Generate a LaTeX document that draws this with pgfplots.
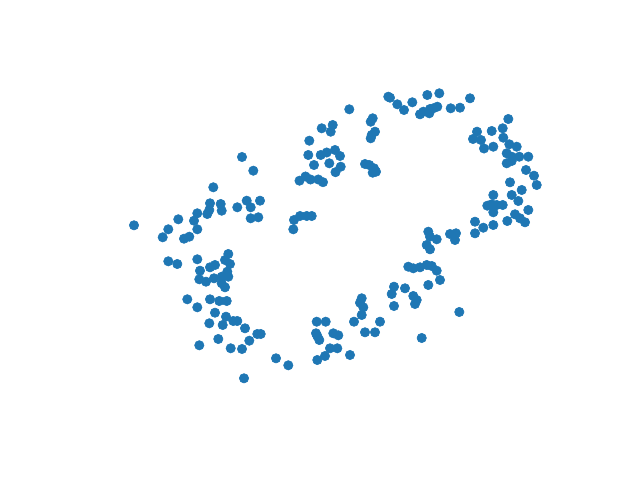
\documentclass[border=0pt]{standalone}
\usepackage{pgfplots}
\pgfplotsset{compat=1.18}
\definecolor{mplblue}{HTML}{1F77B4}
\begin{document}
\begin{tikzpicture}
\begin{axis}[
    width=6.4in, height=4.8in, scale only axis,
    xmin=0, xmax=640, ymin=0, ymax=480,
    y dir=reverse,
    hide axis, clip=false,
]
\path (rel axis cs:0,0) rectangle (rel axis cs:1,1);
\addplot[only marks, mark=*, mark size=3.4pt, color=mplblue] coordinates {
(134,225.3) (162.7,237.3) (168.3,229.3) (178.3,219.3) (184,238.7) (189.3,236.7)
(197.3,229.3) (194,220.7) (197.3,213.3) (207.3,214) (209.3,210) (210,203.3)
(213.3,187.3) (220.7,204) (221.7,210.7) (237.3,207.3) (242,157)
(168.3,261.3) (177.3,264) (197.3,259.3) (228.3,254) (225,260) (200,270.7)
(210,267.3) (215,265) (230,264) (227.3,271.7) (199.3,279.3) (206,281.7)
(214,278.3) (221.7,276.7) (228.3,276.7) (221.7,283.3) (225,287.3)
(187.3,299.3) (197.3,307.3) (210,299.3) (219.3,301) (226.7,301)
(215,312.7) (226,316.7) (233.3,321) (237.3,321) (209.3,323.3) (222.7,325)
(218.3,339) (199.3,345.3) (230.7,348.3) (242,349) (245,328.3) (249.3,340.7)
(257.3,334) (260.7,334) (244,378.3) (276,358.3) (288.3,365.3)
(316.7,321.7) (325.7,321.7) (316,333.3) (317.3,336) (319.3,340)
(333.3,333.3) (338.3,335.3) (330,348.3) (337.3,348.3) (325,356) (317.3,360)
(350,355) (354,321.7) (361.7,298.3) (360,302.7) (363.3,307.3) (361.7,315)
(365,332.3) (375,332.3) (380,321.7)
(309.3,140.7) (253.3,170.7) (308.3,155) (320.7,155) (326.7,152.5) (335,150)
(340,156) (314,165) (329.3,163.3) (340.7,166.7) (335.5,172.2)
(299.5,180.7) (305.5,176.5) (310.5,179.5) (318.3,179.5) (323,182.2)
(246.7,200.7) (250.7,207.3) (260,200.7) (250.7,218.3) (258.3,217.3)
(294,220) (300,216) (306.7,216) (311.7,216) (293.3,229.3)
(349.3,109.3) (370.7,121.7) (372.7,118.3) (371.7,135) (375,131.7) (370.7,138.3)
(388.3,96.7) (321.7,128.3) (332.7,125) (330.7,131.7)
(365,164) (369.3,165) (374,168.3) (376,171.7) (372.7,172.7)
(390,97.7) (397.3,104.3) (404,110) (412.3,102.3) (427.3,95) (439.3,93.3)
(420,114.3) (423.3,111.7) (429.3,113.3) (433.3,108.3) (437.3,106.7) (430,109)
(450.7,108.3) (460,107.7) (470,98.3)
(477,131.7) (473,139) (481,140) (484,148.5)
(508.3,119) (491.7,131) (502.7,128.3) (493.3,146.7) (503.3,137.7)
(509.3,144.3) (516.7,146.7) (506.7,153.3) (511.7,156.7) (519.3,156.7)
(528.3,156.7) (506.7,163.3) (511.7,161) (526,170) (534,175.7) (536.7,185)
(510,182.3) (521.7,190) (511.7,195) (518.3,201) (493.3,195) (487.3,205.7)
(491.7,204.3) (496.7,205) (493.3,212.3) (502.7,205) (515,214.3) (520,218.3)
(525,222.3) (528.3,210) (507.3,221) (475,221.7) (483.3,227.7) (493.3,225)
(475,233.3)
(428.3,231.7) (430,236.7) (436.7,239.3) (426.7,245) (430,249.3)
(450,234) (456,233.3) (455,240)
(408.3,266.7) (413.3,268.3) (420,267.3) (426.7,265) (431.7,266) (436.7,270.7)
(440,280) (428.3,285) (394,286.7) (391.7,294) (405,288.3) (413.3,296)
(416.7,300) (415,304) (394,306) (459.3,312) (421.7,338)
};
\end{axis}
\end{tikzpicture}
\end{document}
